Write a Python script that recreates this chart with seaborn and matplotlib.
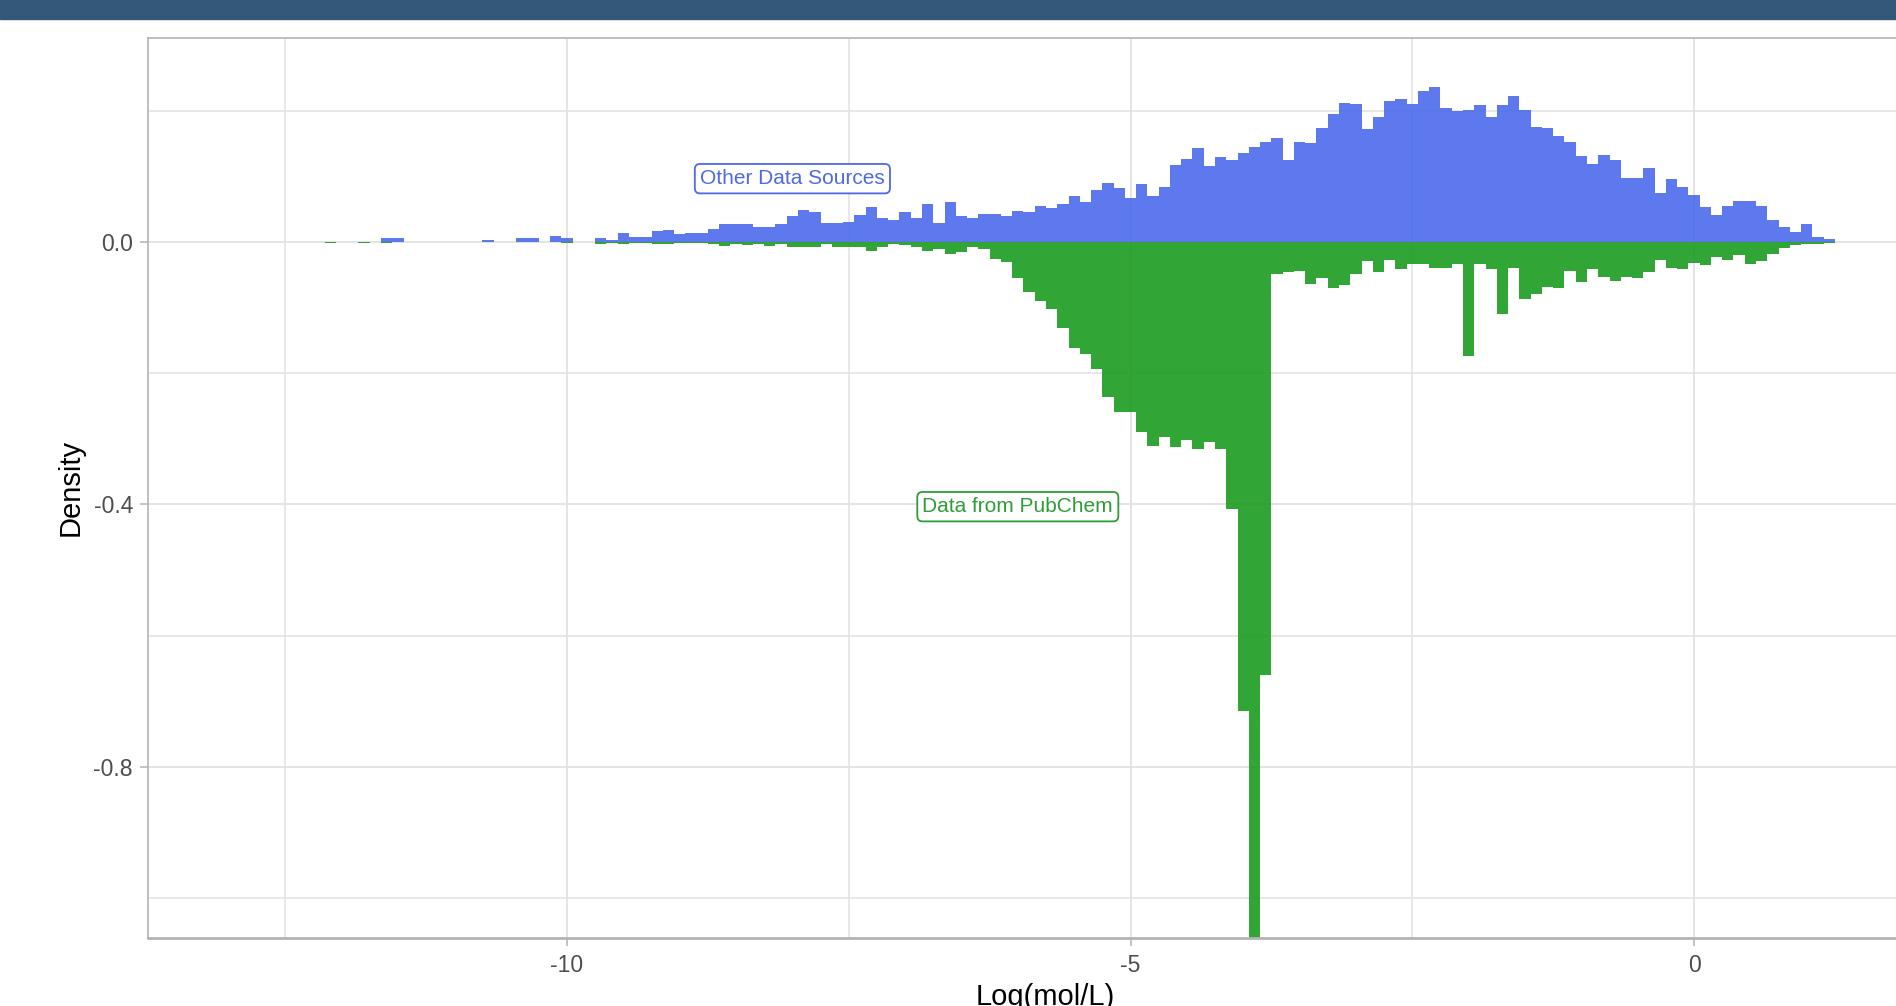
import numpy as np
import pandas as pd
import matplotlib
matplotlib.use("Agg")
import matplotlib.pyplot as plt
import seaborn as sns
from matplotlib.patches import Rectangle
from matplotlib.ticker import FixedLocator

# ---------------- data ----------------
bin_width = 0.1
first_center = -12.1
n_bins = 135
bin_centers = [round(first_center + bin_width * i, 1) for i in range(n_bins)]

# density of "Other Data Sources" (plotted upwards)
other_density = [
    0, 0, 0, 0, 0, 0.0056, 0.0056, 0, 0, 0,
    0, 0, 0, 0, 0.003, 0, 0, 0.0056, 0.0056, 0,
    0.0095, 0.0056, 0, 0, 0.0056, 0.003, 0.0137, 0.0071, 0.0071, 0.016,
    0.0178, 0.012, 0.0137, 0.0137, 0.02, 0.0269, 0.0269, 0.0269, 0.0224, 0.0224,
    0.0269, 0.0396, 0.048, 0.046, 0.0285, 0.0285, 0.031, 0.0417, 0.0539, 0.0366,
    0.033, 0.0452, 0.0371, 0.0584, 0.0285, 0.0605, 0.0396, 0.0371, 0.0432, 0.0432,
    0.0391, 0.0478, 0.0457, 0.0544, 0.0523, 0.0584, 0.0696, 0.061, 0.0798, 0.0904,
    0.0823, 0.0676, 0.0884, 0.0706, 0.0843, 0.1179, 0.127, 0.1438, 0.1165, 0.129,
    0.125, 0.1357, 0.1443, 0.1529, 0.159, 0.125, 0.1529, 0.151, 0.1743, 0.1956,
    0.2124, 0.2104, 0.1717, 0.191, 0.2144, 0.2185, 0.2104, 0.2297, 0.2358, 0.2038,
    0.2002, 0.2017, 0.2083, 0.191, 0.2083, 0.223, 0.2017, 0.1758, 0.174, 0.1613,
    0.153, 0.1316, 0.1184, 0.1331, 0.125, 0.097, 0.097, 0.1123, 0.0742, 0.0955,
    0.0843, 0.0711, 0.0528, 0.0417, 0.0544, 0.0625, 0.0625, 0.0549, 0.033, 0.0224,
    0.0157, 0.0269, 0.0071, 0.0051, 0.0,
]

# density of "Data from PubChem" (plotted downwards)
pubchem_density = [
    0.0015, 0, 0, 0.0015, 0, 0.0015, 0, 0, 0, 0,
    0, 0, 0, 0, 0, 0, 0, 0, 0, 0,
    0, 0.002, 0, 0, 0.0036, 0.001, 0.003, 0.0015, 0.0015, 0.0036,
    0.0036, 0.0015, 0.0015, 0.0015, 0.0036, 0.0056, 0.0036, 0.005, 0.0036, 0.0056,
    0.0036, 0.0076, 0.0076, 0.0076, 0.0036, 0.0076, 0.0076, 0.0076, 0.0137, 0.0076,
    0.0036, 0.0051, 0.0071, 0.0137, 0.0102, 0.0178, 0.0158, 0.0081, 0.0102, 0.0264,
    0.031, 0.0544, 0.0757, 0.0899, 0.1021, 0.1316, 0.1616, 0.1702, 0.1941, 0.2363,
    0.2597, 0.2597, 0.2896, 0.311, 0.2978, 0.313, 0.3013, 0.3155, 0.3054, 0.3155,
    0.407, 0.7154, 1.52, 0.6596, 0.0483, 0.0462, 0.0442, 0.0645, 0.0554, 0.0696,
    0.0655, 0.0483, 0.029, 0.0462, 0.0269, 0.0417, 0.0335, 0.0335, 0.0396, 0.0396,
    0.0335, 0.1743, 0.0335, 0.0417, 0.1103, 0.0401, 0.0869, 0.0798, 0.0681, 0.0696,
    0.0442, 0.0615, 0.0417, 0.0528, 0.0589, 0.0528, 0.0544, 0.0462, 0.0269, 0.0401,
    0.0417, 0.0315, 0.0356, 0.0229, 0.0269, 0.0203, 0.033, 0.0295, 0.0183, 0.0097,
    0.0051, 0.0036, 0.0036, 0.001, 0.0005,
]

x_major_ticks = [-10, -5, 0]
x_tick_labels = ["-10", "-5", "0"]
x_minor_ticks = [-12.5, -7.5, -2.5]
y_major_ticks = [0.0, -0.4, -0.8]
y_tick_labels = ["0.0", "-0.4", "-0.8"]
y_minor_ticks = [0.2, -0.2, -0.6, -1.0]

label_other = "Other Data Sources"
label_pubchem = "Data from PubChem"
label_other_pos = (-8.0, 0.0965)
label_pubchem_pos = (-6.0, -0.4035)

x_label = "Log(mol/L)"
y_label = "Density"

# ---------------- style ----------------
sns.set_style("white")
plt.rcParams["font.family"] = ["Liberation Sans", "DejaVu Sans"]

blue = "#4B6BEB"
green = "#209D26"
blue_text = "#4F68E8"
green_text = "#2E9E34"
grid_col = "#E2E2E2"
frame_col = "#B3B3B3"

W, H = 1896, 1006
fig = plt.figure(figsize=(W / 100, H / 100), dpi=100)
left_px, right_px, top_px, bottom_px = 147.5, 1896, 37.5, 938
ax = fig.add_axes([left_px / W, 1 - bottom_px / H,
                   (right_px - left_px) / W, (bottom_px - top_px) / H])

# header band
fig.patches.append(Rectangle((0, 1 - 19 / H), 1, 19 / H,
                             transform=fig.transFigure, color="#345879",
                             zorder=10))

edges = [round(bin_centers[0] - bin_width / 2 + bin_width * i, 3)
         for i in range(n_bins + 1)]

df_other = pd.DataFrame({"logS": bin_centers, "dens": other_density})
df_pub = pd.DataFrame({"logS": bin_centers,
                       "dens": [-v for v in pubchem_density]})

sns.histplot(data=df_pub, x="logS", weights="dens",
             bins=edges, stat="count", element="step", fill=True,
             color=green, alpha=0.92, linewidth=0, ax=ax)
sns.histplot(data=df_other, x="logS", weights="dens",
             bins=edges, stat="count", element="step", fill=True,
             color=blue, alpha=0.9, linewidth=0, ax=ax)

ax.set_xlim(-13.722, 1.792)
ax.set_ylim(-1.061, 0.3117)

ax.xaxis.set_major_locator(FixedLocator(x_major_ticks))
ax.set_xticklabels(x_tick_labels)
ax.xaxis.set_minor_locator(FixedLocator(x_minor_ticks))
ax.yaxis.set_major_locator(FixedLocator(y_major_ticks))
ax.set_yticklabels(y_tick_labels)
ax.yaxis.set_minor_locator(FixedLocator(y_minor_ticks))

ax.set_axisbelow(True)
ax.grid(True, which="major", color=grid_col, linewidth=1.3)
ax.grid(True, which="minor", color=grid_col, linewidth=1.1)

for side in ["top", "left"]:
    ax.spines[side].set_color(frame_col)
    ax.spines[side].set_linewidth(1.2)
ax.spines["bottom"].set_color(frame_col)
ax.spines["bottom"].set_linewidth(2.0)
ax.spines["right"].set_visible(False)

ax.tick_params(axis="both", which="major", length=5.5, width=1.1,
               color=frame_col, labelsize=16.5, labelcolor="#4D4D4D", pad=5,
               bottom=True, left=True)
ax.tick_params(axis="x", which="major", pad=6)
ax.tick_params(axis="both", which="minor", length=0)

ax.set_xlabel(x_label, fontsize=21, color="black")
ax.set_ylabel(y_label, fontsize=21, color="black")
ax.xaxis.set_label_coords(0.5133, -0.0495)
ax.yaxis.set_label_coords(-0.0357, 0.5)

ax.text(*label_other_pos, label_other, fontsize=15, color=blue_text,
        ha="center", va="center",
        bbox=dict(boxstyle="round,pad=0.25,rounding_size=0.25",
                  fc="white", ec=blue_text, lw=1.3))
ax.text(*label_pubchem_pos, label_pubchem, fontsize=15, color=green_text,
        ha="center", va="center",
        bbox=dict(boxstyle="round,pad=0.25,rounding_size=0.25",
                  fc="white", ec=green_text, lw=1.3))

fig.savefig("out.png", dpi=100)
